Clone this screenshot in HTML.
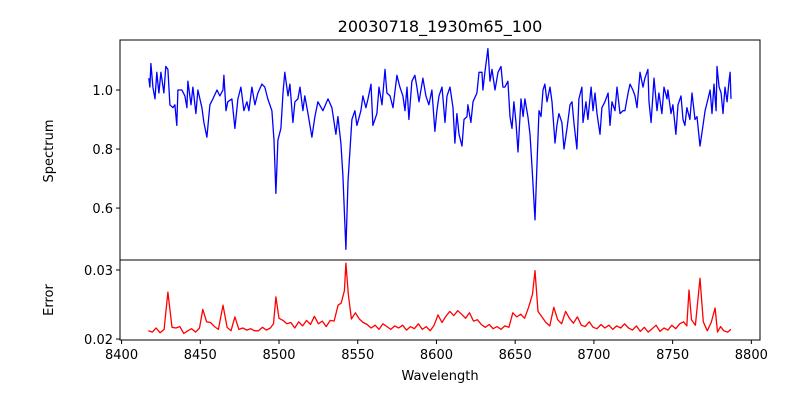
<!DOCTYPE html>
<html><head><meta charset="utf-8"><style>
body{margin:0;background:#fff;font-family:"Liberation Sans","DejaVu Sans",sans-serif}
svg text{font-family:"DejaVu Sans","Liberation Sans",sans-serif;font-size:13px;fill:#000}
</style></head><body>
<svg id="chart" width="800" height="400" xmlns="http://www.w3.org/2000/svg">
<rect width="800" height="400" fill="#fff"/>
<text x="440" y="32" text-anchor="middle" style="font-size:16px">20030718_1930m65_100</text>
<g id="topPanel"></g>
<g id="botPanel"></g>
<text transform="translate(53,151) rotate(-90)" text-anchor="middle">Spectrum</text>
<text transform="translate(53,300) rotate(-90)" text-anchor="middle">Error</text>
<text x="440" y="380" text-anchor="middle">Wavelength</text>
</svg>
<script>
const specWave=[8417.3,8418.0,8418.6,8419.9,8421.2,8422.4,8423.7,8425.0,8426.9,8428.1,8429.4,8430.7,8432.6,8433.9,8435.1,8435.8,8438.3,8440.2,8441.5,8442.1,8444.1,8445.3,8447.2,8448.5,8451.0,8452.3,8454.2,8456.1,8458.0,8460.6,8462.4,8464.4,8465.0,8466.3,8467.5,8470.1,8472.0,8473.9,8475.8,8477.7,8479.6,8480.9,8482.8,8484.7,8486.6,8489.1,8491.0,8492.9,8495.5,8496.8,8498.0,8499.3,8501.2,8502.5,8503.7,8505.7,8506.9,8508.8,8510.1,8512.0,8513.3,8515.2,8516.4,8518.4,8520.9,8522.8,8524.7,8527.9,8531.1,8533.6,8536.1,8537.4,8539.3,8540.6,8542.5,8543.8,8546.3,8548.2,8549.5,8552.0,8553.3,8555.2,8556.5,8558.4,8559.6,8562.2,8563.5,8565.4,8567.3,8568.5,8570.5,8572.4,8574.9,8576.8,8578.7,8580.0,8581.3,8582.5,8584.4,8586.3,8587.6,8588.9,8591.4,8593.3,8595.2,8597.1,8599.0,8600.3,8601.6,8603.5,8605.4,8606.7,8608.6,8610.5,8611.7,8613.0,8614.3,8616.2,8617.5,8619.4,8620.0,8621.9,8623.2,8625.7,8627.0,8628.9,8629.5,8630.8,8632.7,8634.0,8635.3,8637.2,8639.1,8641.0,8642.2,8643.5,8645.4,8646.7,8648.0,8649.2,8650.5,8651.8,8653.7,8655.0,8656.2,8658.1,8659.4,8660.7,8662.6,8663.8,8665.1,8666.4,8667.7,8668.9,8670.2,8672.1,8673.4,8675.3,8676.5,8677.8,8679.7,8681.0,8682.9,8684.8,8686.1,8687.3,8689.2,8690.5,8692.4,8693.1,8695.0,8696.2,8698.2,8699.4,8700.7,8702.0,8703.9,8705.1,8707.0,8709.0,8710.2,8711.5,8713.4,8714.7,8716.6,8718.5,8719.7,8721.7,8722.9,8724.8,8726.1,8727.4,8729.3,8731.2,8732.4,8734.3,8735.0,8736.3,8738.2,8740.1,8741.3,8743.2,8744.5,8746.4,8747.0,8749.0,8750.2,8752.1,8753.4,8755.3,8756.6,8757.8,8759.1,8761.0,8762.3,8764.2,8765.5,8767.4,8769.3,8770.6,8772.5,8773.8,8775.0,8776.3,8777.6,8778.2,8779.5,8780.8,8782.0,8783.3,8784.6,8785.8,8786.5,8787.1];
const specFlux=[1.04,1.01,1.09,1.01,0.97,1.06,0.99,1.06,0.99,1.08,1.07,0.95,0.94,0.95,0.88,1.00,1.00,0.98,0.94,1.03,0.95,1.01,0.92,1.00,0.94,0.89,0.84,0.95,0.97,1.00,0.98,1.00,1.05,0.93,0.96,0.97,0.87,0.97,1.01,0.93,0.96,0.93,1.01,0.95,0.99,1.02,1.01,0.97,0.93,0.83,0.65,0.83,0.87,0.99,1.06,0.98,1.02,0.89,0.96,0.97,1.01,0.93,0.98,0.92,0.84,0.91,0.96,0.93,0.97,0.94,0.85,0.91,0.82,0.71,0.46,0.69,0.90,0.93,0.88,0.93,0.98,0.94,0.97,1.02,0.88,0.92,1.01,0.95,1.07,0.99,0.98,0.94,1.05,1.01,0.98,0.93,1.01,0.90,1.03,1.05,1.01,0.96,1.04,0.98,0.95,1.00,0.86,0.93,0.98,1.01,0.89,0.98,1.01,0.94,0.82,0.92,0.85,0.81,0.90,0.91,0.95,0.89,0.96,0.99,1.06,1.06,1.00,1.06,1.14,1.03,1.07,1.00,1.06,1.08,1.01,1.01,1.03,0.91,0.87,0.96,0.89,0.79,0.97,0.91,0.97,0.91,0.85,0.74,0.56,0.74,0.93,0.91,1.00,1.02,0.96,1.01,0.96,0.82,0.88,0.92,0.89,0.80,0.87,0.95,0.96,0.89,0.80,0.97,1.01,0.89,0.96,0.90,1.01,0.93,0.99,0.92,0.85,0.94,0.96,0.99,0.88,0.96,0.93,1.01,0.92,0.93,0.93,0.99,1.02,1.00,0.98,0.94,1.06,1.01,1.04,1.07,0.96,0.89,1.04,0.93,0.99,0.92,1.01,0.97,1.00,0.92,0.95,0.85,0.95,0.98,0.90,0.88,0.94,0.90,0.99,0.90,0.91,0.81,0.88,0.93,0.97,1.00,0.92,1.02,0.93,1.08,1.01,0.99,0.92,1.01,0.96,1.03,1.06,0.97];
const errWave=[8417,8419.5,8422,8424.5,8427,8429.4,8432,8434.5,8437,8439.5,8442,8444.5,8447,8449.5,8451.6,8454,8456.5,8459,8461.5,8464.4,8467,8469.5,8472,8474.5,8477,8479.5,8482,8484.5,8487,8489.5,8492,8494.5,8496.5,8498,8500,8502.5,8505,8507.5,8510,8512.5,8515,8517.5,8520,8522.5,8525,8527.5,8530,8532.5,8535,8537.5,8539.5,8541.5,8542.5,8544,8546,8548.5,8551,8553.5,8556,8558.5,8561,8563.5,8566,8568.5,8571,8573.5,8576,8578.5,8581,8583.5,8586,8588.5,8591,8593.5,8596,8598.5,8601,8603.5,8606,8608.5,8611,8613.5,8616,8618.5,8621,8623.5,8626,8628.5,8631,8633.5,8636,8638.5,8641,8643.5,8646,8648.5,8651,8653.5,8656,8658.5,8661,8662.6,8664.5,8667,8669.5,8672,8674.5,8677,8679.5,8682,8684.5,8687,8689.5,8692,8694.5,8697,8699.5,8702,8704.5,8707,8709.5,8712,8714.5,8717,8719.5,8722,8724.5,8727,8729.5,8732,8734.5,8737,8739.5,8742,8744.5,8747,8749.5,8752,8754.5,8757,8759,8760.4,8762,8764.5,8767.4,8769.5,8772,8774.5,8777,8778.5,8780.5,8782.5,8785,8787];
const errVal=[0.0212,0.0210,0.0216,0.0209,0.0214,0.0268,0.0217,0.0216,0.0218,0.0208,0.0212,0.0215,0.0210,0.0216,0.0243,0.0225,0.0224,0.0218,0.0214,0.0249,0.0217,0.0212,0.0232,0.0214,0.0216,0.0213,0.0215,0.0212,0.0212,0.0217,0.0213,0.0216,0.0222,0.0261,0.0230,0.0227,0.0222,0.0224,0.0216,0.0225,0.0219,0.0227,0.0221,0.0233,0.0222,0.0226,0.0218,0.0227,0.0226,0.0249,0.0252,0.0270,0.0310,0.0265,0.0229,0.0238,0.0229,0.0224,0.0221,0.0216,0.0220,0.0214,0.0222,0.0218,0.0214,0.0219,0.0216,0.0220,0.0213,0.0218,0.0215,0.0222,0.0214,0.0218,0.0212,0.0220,0.0235,0.0224,0.0233,0.0240,0.0234,0.0241,0.0236,0.0230,0.0238,0.0226,0.0228,0.0221,0.0217,0.0221,0.0215,0.0218,0.0214,0.0219,0.0217,0.0238,0.0232,0.0236,0.0230,0.0246,0.0265,0.0299,0.0240,0.0232,0.0224,0.0219,0.0246,0.0228,0.0222,0.0240,0.0230,0.0223,0.0232,0.0220,0.0218,0.0225,0.0217,0.0215,0.0221,0.0216,0.0220,0.0214,0.0219,0.0216,0.0222,0.0216,0.0213,0.0219,0.0211,0.0217,0.0210,0.0215,0.0220,0.0211,0.0216,0.0213,0.0220,0.0215,0.0222,0.0225,0.0219,0.0271,0.0228,0.0220,0.0288,0.0225,0.0212,0.0224,0.0245,0.0210,0.0218,0.0212,0.0210,0.0214];
const xTicks=[8400,8450,8500,8550,8600,8650,8700,8750,8800];
const specTicks=[0.6,0.8,1.0];
const errTicks=[0.02,0.03];

const NS='http://www.w3.org/2000/svg';
const L=120,R=760,xMin=8399,xMax=8805.5;
const T1=40,B1=260,y1Min=0.424,y1Max=1.1695;
const T2=260,B2=340,y2Min=0.01986,y2Max=0.03145;
const xs=w=>L+(w-xMin)/(xMax-xMin)*(R-L);
const ys1=v=>B1-(v-y1Min)/(y1Max-y1Min)*(B1-T1);
const ys2=v=>B2-(v-y2Min)/(y2Max-y2Min)*(B2-T2);
function mk(tag,attrs,parent){const e=document.createElementNS(NS,tag);for(const k in attrs)e.setAttribute(k,attrs[k]);parent.appendChild(e);return e;}
const gTop=document.getElementById('topPanel'),gBot=document.getElementById('botPanel');

function pts(wv,vals,ys){const n=Math.min(wv.length,vals.length);const out=[];for(let i=0;i<n;i++)out.push(xs(wv[i]).toFixed(1)+','+ys(vals[i]).toFixed(1));return out.join(' ');}
const p1=mk('polyline',{points:pts(specWave,specFlux,ys1),fill:'none',stroke:'#0000ff','stroke-width':1.3,'stroke-linejoin':'round'},gTop);


const p2=mk('polyline',{points:pts(errWave,errVal,ys2),fill:'none',stroke:'#ff0000','stroke-width':1.3,'stroke-linejoin':'round'},gBot);



const f1=mk('rect',{x:L,y:T1,width:R-L,height:B1-T1,fill:'none',stroke:'#000','stroke-width':1},gTop);


const f2=mk('rect',{x:L,y:T2,width:R-L,height:B2-T2,fill:'none',stroke:'#000','stroke-width':1},gBot);



specTicks.forEach(v=>{const y=ys1(v);
 const t=mk('line',{x1:L-4,x2:L,y1:y,y2:y,stroke:'#000'},gTop);
 
 
 const l=mk('text',{x:L-7,y:y+5,'text-anchor':'end'},gTop);l.textContent=v.toFixed(1);
 
 });
errTicks.forEach(v=>{const y=ys2(v);
 const t=mk('line',{x1:L-4,x2:L,y1:y,y2:y,stroke:'#000'},gBot);
 
 
 const l=mk('text',{x:L-7,y:y+5,'text-anchor':'end'},gBot);l.textContent=v.toFixed(2);
 
 });
xTicks.forEach(v=>{const x=xs(v);
 const t=mk('line',{x1:x,x2:x,y1:B2,y2:B2+4,stroke:'#000'},gBot);
 
 
 const l=mk('text',{x:x,y:B2+19,'text-anchor':'middle'},gBot);l.textContent=v;
 
 });
</script>
</body></html>
